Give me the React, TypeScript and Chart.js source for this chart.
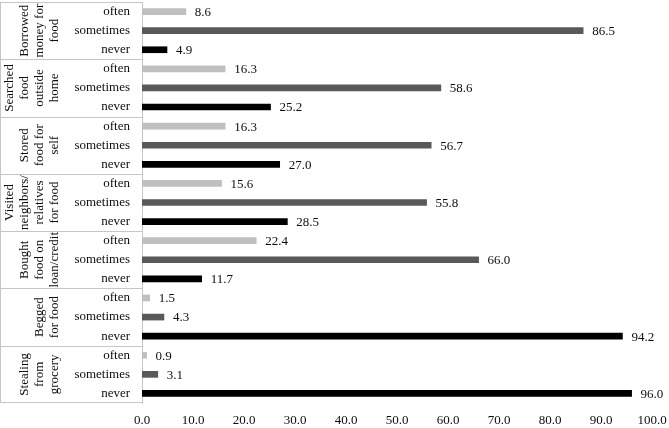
import { useEffect, useRef } from "react";
import { Chart, registerables } from "chart.js";

Chart.register(...registerables);

// group names, one entry per line as printed on the left
const groupLines = [
	["Borrowed", "money for", "food"],
	["Searched", "food", "outside", "home"],
	["Stored", "food for", "self"],
	["Visited", "neighbors/", "relatives", "for food"],
	["Bought", "food on", "loan/credit"],
	["Begged", "for food"],
	["Stealing", "from", "grocery"],
];
const levels = ["often", "sometimes", "never"];
const oftenValues = [8.6, 16.3, 16.3, 15.6, 22.4, 1.5, 0.9];
const sometimesValues = [86.5, 58.6, 56.7, 55.8, 66.0, 4.3, 3.1];
const neverValues = [4.9, 25.2, 27.0, 28.5, 11.7, 94.2, 96.0];
const xTicks = [0, 10, 20, 30, 40, 50, 60, 70, 80, 90, 100];

const FONT = "'Liberation Serif', 'Times New Roman', serif";
const LINE = "#c6c6c6";
const TEXT = "#0d0d0d";

const rowLabels = groupLines.flatMap(() => levels);
const spread = (vals: number[], slot: number) =>
	rowLabels.map((_, i) => (i % 3 === slot ? vals[Math.floor(i / 3)] : null));

const leftBox = {
	id: "leftBox",
	afterDraw(chart: any) {
		const { ctx, chartArea } = chart;
		const y = chart.scales.y;
		const left = chartArea.left;
		ctx.save();
		ctx.strokeStyle = LINE;
		ctx.lineWidth = 1;
		ctx.beginPath();
		ctx.moveTo(0.5, chartArea.top);
		ctx.lineTo(0.5, chartArea.bottom);
		ctx.moveTo(0, Math.round(chartArea.top) + 0.5);
		ctx.lineTo(left, Math.round(chartArea.top) + 0.5);
		ctx.moveTo(0, Math.round(chartArea.bottom) - 0.5);
		ctx.lineTo(left, Math.round(chartArea.bottom) - 0.5);
		for (let g = 1; g < groupLines.length; g++) {
			const yy = Math.round((y.getPixelForValue(3 * g - 1) + y.getPixelForValue(3 * g)) / 2) + 0.5;
			ctx.moveTo(0, yy);
			ctx.lineTo(left, yy);
		}
		ctx.stroke();

		ctx.fillStyle = TEXT;
		ctx.font = `13px ${FONT}`;
		ctx.textAlign = "center";
		ctx.textBaseline = "middle";
		groupLines.forEach((lines, g) => {
			const cy = y.getPixelForValue(3 * g + 1);
			lines.forEach((t, i) => {
				const x = 55 - 15 * (lines.length - 1 - i);
				ctx.save();
				ctx.translate(x, cy);
				ctx.rotate(-Math.PI / 2);
				ctx.fillText(t, 0, 0);
				ctx.restore();
			});
		});

		// value labels at bar ends
		ctx.textAlign = "left";
		chart.data.datasets.forEach((ds: any, di: number) => {
			const meta = chart.getDatasetMeta(di);
			meta.data.forEach((bar: any, i: number) => {
				const v = ds.data[i];
				if (v == null) return;
				ctx.fillText(v.toFixed(1), bar.x + 9, bar.y + 1);
			});
		});
		ctx.restore();
	},
};

const App = (): JSX.Element => {
	const chartRef = useRef<HTMLCanvasElement | null>(null);

	useEffect(() => {
		const c = chartRef.current.getContext("2d");
		let myChart = new Chart(c, {
			type: "bar",
			data: {
				labels: rowLabels,
				datasets: [
					{ label: "often", data: spread(oftenValues, 0), backgroundColor: "#bfbfbf" },
					{ label: "sometimes", data: spread(sometimesValues, 1), backgroundColor: "#595959" },
					{ label: "never", data: spread(neverValues, 2), backgroundColor: "#000000" },
				],
			},
			options: {
				indexAxis: "y",
				animation: false,
				responsive: false,
				datasets: { bar: { grouped: false, barThickness: 6 } },
				layout: { padding: { top: 2, right: 17, bottom: 0, left: 0 } },
				plugins: { legend: { display: false }, tooltip: { enabled: false } },
				scales: {
					x: {
						min: 0,
						max: 100,
						afterBuildTicks: (s: any) => {
							s.ticks = xTicks.map((v) => ({ value: v }));
						},
						afterFit: (s: any) => {
							s.height = 25;
							s.paddingLeft = 0;
							s.paddingRight = 0;
						},
						grid: { display: false, drawTicks: false },
						border: { display: false },
						ticks: {
							padding: 10,
							maxRotation: 0,
							color: TEXT,
							font: { family: FONT, size: 13 },
							callback: (v: any) => Number(v).toFixed(1),
						},
					},
					y: {
						afterFit: (s: any) => {
							s.width = 142;
							s.paddingTop = 0;
							s.paddingBottom = 0;
						},
						grid: { display: false, drawTicks: false },
						border: { display: true, color: LINE },
						ticks: {
							padding: 12,
							autoSkip: false,
							color: TEXT,
							font: { family: FONT, size: 13 },
						},
					},
				},
			},
			plugins: [leftBox],
		});

		return () => {
			myChart.destroy();
		};
	}, []);

	return (
		<div style={{ position: "fixed", left: 0, top: 0, width: 669, height: 428, background: "#fff" }}>
			<canvas ref={chartRef} width={669} height={428} style={{ width: 669, height: 428 }} />
		</div>
	);
};

export default App;
